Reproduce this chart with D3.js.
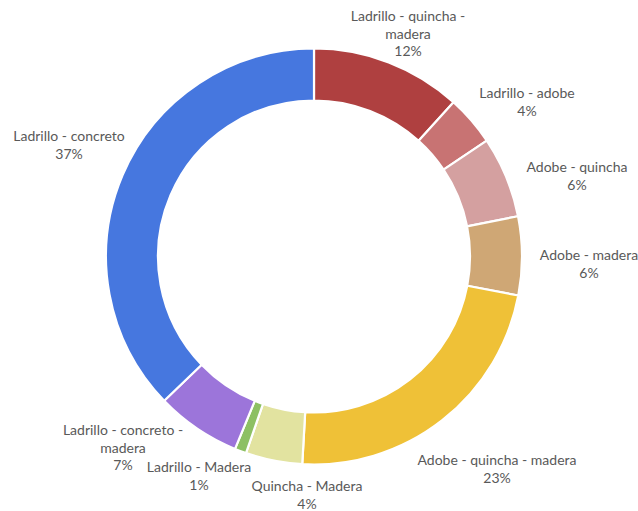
<!DOCTYPE html>
<html><head><meta charset="utf-8">
<script src="https://cdn.jsdelivr.net/npm/d3@7"></script>
<style>body{margin:0;background:#fff}svg{display:block}</style>
</head><body>
<svg id="c" width="638" height="511"></svg>
<script>
const categories = ["Ladrillo - quincha - madera","Ladrillo - adobe","Adobe - quincha","Adobe - madera","Adobe - quincha - madera","Quincha - Madera","Ladrillo - Madera","Ladrillo - concreto - madera","Ladrillo - concreto"];
const values = [11.7, 3.9, 6.3, 6.1, 22.9, 4.4, 0.9, 6.6, 37.2];
const colors = ["#AF4040","#C87373","#D4A0A0","#CFA775","#EFC137","#E2E3A0","#8DC063","#9C75DA","#4677DF"];
// label text lines (category split as wrapped in chart)
const labelLines = [["Ladrillo - quincha -","madera"],["Ladrillo - adobe"],["Adobe - quincha"],["Adobe - madera"],["Adobe - quincha - madera"],["Quincha - Madera"],["Ladrillo - Madera"],["Ladrillo - concreto -","madera"],["Ladrillo - concreto"]];
// layout: label block centres
const labelCenters = [[408,34],[527,102],[577,176],[589,264],[497,469],[307,495],[199,476],[123,448],[69,145]];

const svg = d3.select("#c");
const cx = 314, cy = 256.5, R = 208, r = 156;
const total = d3.sum(values);
const pie = d3.pie().sort(null).value(d => d)(values);
const arc = d3.arc().innerRadius(r).outerRadius(R);
const g = svg.append("g").attr("transform", `translate(${cx},${cy})`);
g.selectAll("path").data(pie).join("path")
  .attr("d", arc).attr("fill", (d,i) => colors[i])
  .attr("stroke", "#fff").attr("stroke-width", 2.2).attr("stroke-linejoin","round");

const lh = 17.5;
const lab = svg.append("g").attr("font-family","Lato, 'Open Sans', sans-serif").attr("font-size","14px").attr("fill","#595959").attr("text-anchor","middle");
categories.forEach((c,i) => {
  const lines = labelLines[i].concat([Math.round(values[i]/total*100) + "%"]);
  const [x,y] = labelCenters[i];
  const y0 = y - (lines.length-1)*lh/2;
  const t = lab.append("text").attr("x", x).attr("y", y0).attr("dy","0.35em");
  lines.forEach((l,j) => t.append("tspan").attr("x", x).attr("y", y0 + j*lh).attr("dy","0.35em").text(l));
});
</script>
</body></html>
